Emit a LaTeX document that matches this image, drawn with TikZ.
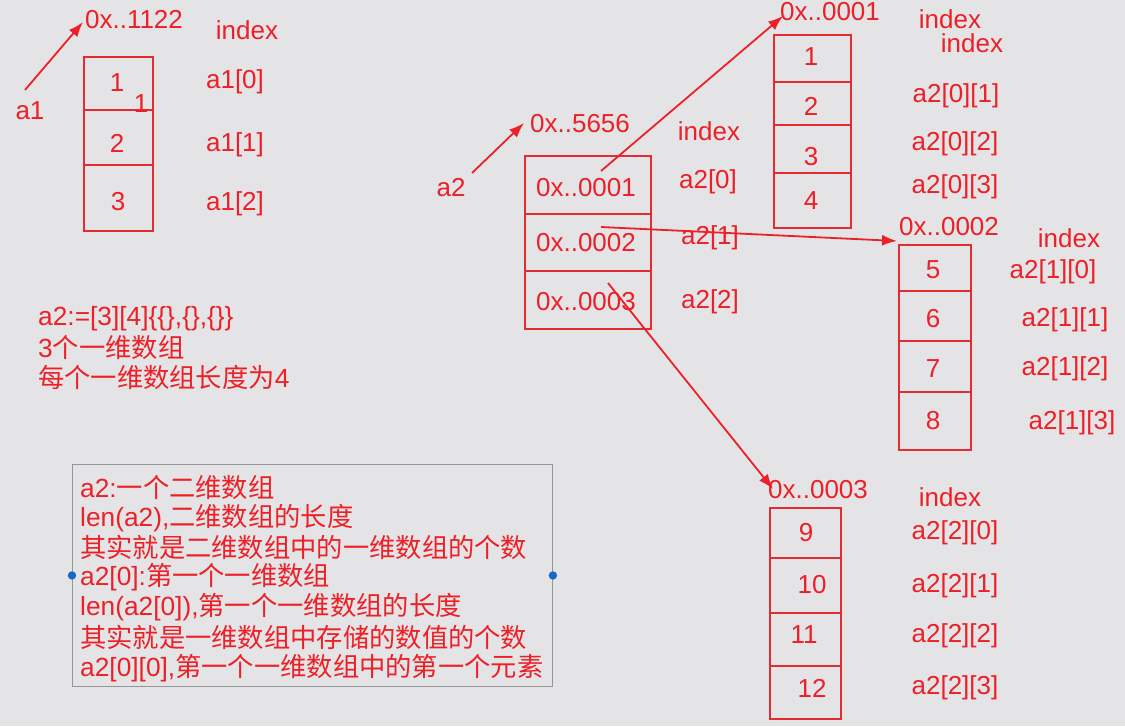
\documentclass[tikz,border=0pt]{standalone}
\usepackage{fontspec}
\setmainfont{Liberation Sans}
\newfontfamily\cjk{Noto Sans CJK SC}
\usetikzlibrary{arrows.meta}
\definecolor{bg}{RGB}{228,228,231}
\definecolor{rd}{RGB}{236,32,38}
\definecolor{ln}{RGB}{226,44,52}
\definecolor{gborder}{RGB}{150,150,152}
\definecolor{dotblue}{RGB}{24,104,200}
\begin{document}
\begin{tikzpicture}[x=1pt,y=-1pt,
  lbl/.style={text=rd,font=\fontsize{26}{30}\selectfont,inner sep=0pt},
  zh/.style={text=rd,font=\fontsize{26.3}{30}\selectfont,inner sep=0pt,anchor=west},
  cellbox/.style={draw=ln,line width=1.8pt,inner sep=0pt,anchor=north west},
  arr/.style={draw=rd,line width=1.8pt,-{Latex[length=15pt,width=11pt]}}]
\fill[bg] (0,0) rectangle (1125,726);
\useasboundingbox (0,0) rectangle (1125,726);

% ---------- a1 ----------
\node[cellbox,minimum width=69pt,minimum height=53pt] (a1c0) at (83,56) {};
\node[cellbox,minimum width=69pt,minimum height=55pt] (a1c1) at (83,109) {};
\node[cellbox,minimum width=69pt,minimum height=66pt] (a1c2) at (83,164) {};
\node[lbl] (a1t0) at (117,83) {1};
\node[lbl] (a1stray) at (141,104) {1};
\node[lbl] (a1t1) at (117,143) {2};
\node[lbl] (a1t2) at (118,202) {3};
\node[lbl] (a1lbl) at (30,111) {a1};
\node[lbl] (addr1122) at (134,20) {0x..1122};
\node[lbl] (a1idx) at (247,30) {index};
\node[lbl] (a1i0) at (235,82) {a1[0]};
\node[lbl] (a1i1) at (235,145) {a1[1]};
\node[lbl] (a1i2) at (235,204) {a1[2]};
\coordinate (a1s) at (25,90);
\coordinate (a1e) at (83,22);
\draw[arr] (a1s) -- (a1e);

% ---------- a2 ----------
\node[cellbox,minimum width=126pt,minimum height=58pt] (a2c0) at (524,155) {};
\node[cellbox,minimum width=126pt,minimum height=57pt] (a2c1) at (524,213) {};
\node[cellbox,minimum width=126pt,minimum height=58pt] (a2c2) at (524,270) {};
\node[lbl] (a2t0) at (586,188) {0x..0001};
\node[lbl] (a2t1) at (586,243) {0x..0002};
\node[lbl] (a2t2) at (586,302) {0x..0003};
\node[lbl] (a2lbl) at (451,188) {a2};
\node[lbl] (addr5656) at (580,124) {0x..5656};
\node[lbl] (a2idx) at (709,131) {index};
\node[lbl] (a2i0) at (708,182) {a2[0]};
\node[lbl] (a2i1) at (710,238) {a2[1]};
\node[lbl] (a2i2) at (710,302) {a2[2]};
\coordinate (a2s) at (472,173);
\coordinate (a2e) at (524,123);
\draw[arr] (a2s) -- (a2e);

% ---------- row 0 ----------
\node[cellbox,minimum width=77pt,minimum height=47pt] (b0c0) at (773,34) {};
\node[cellbox,minimum width=77pt,minimum height=43pt] (b0c1) at (773,81) {};
\node[cellbox,minimum width=77pt,minimum height=48pt] (b0c2) at (773,124) {};
\node[cellbox,minimum width=77pt,minimum height=55pt] (b0c3) at (773,172) {};
\node[lbl] (b0t0) at (811,57) {1};
\node[lbl] (b0t1) at (811,106) {2};
\node[lbl] (b0t2) at (811,157) {3};
\node[lbl] (b0t3) at (811,201) {4};
\node[lbl] (addr0001) at (830,12) {0x..0001};
\node[lbl] (b0idx) at (950,19) {index};
\node[lbl] (b0idxb) at (972,43) {index};
\node[lbl] (b0i1) at (956,96) {a2[0][1]};
\node[lbl] (b0i2) at (955,144) {a2[0][2]};
\node[lbl] (b0i3) at (955,187) {a2[0][3]};

% ---------- row 1 ----------
\node[cellbox,minimum width=72pt,minimum height=46pt] (b1c0) at (898,244) {};
\node[cellbox,minimum width=72pt,minimum height=50pt] (b1c1) at (898,290) {};
\node[cellbox,minimum width=72pt,minimum height=51pt] (b1c2) at (898,340) {};
\node[cellbox,minimum width=72pt,minimum height=58pt] (b1c3) at (898,391) {};
\node[lbl] (b1t0) at (933,270) {5};
\node[lbl] (b1t1) at (933,319) {6};
\node[lbl] (b1t2) at (933,369) {7};
\node[lbl] (b1t3) at (933,421) {8};
\node[lbl] (addr0002) at (949,227) {0x..0002};
\node[lbl] (b1idx) at (1069,238) {index};
\node[lbl] (b1i0) at (1053,272) {a2[1][0]};
\node[lbl] (b1i1) at (1065,320) {a2[1][1]};
\node[lbl] (b1i2) at (1065,369) {a2[1][2]};
\node[lbl] (b1i3) at (1072,423) {a2[1][3]};

% ---------- row 2 ----------
\node[cellbox,minimum width=71pt,minimum height=50pt] (b2c0) at (769,507) {};
\node[cellbox,minimum width=71pt,minimum height=55pt] (b2c1) at (769,557) {};
\node[cellbox,minimum width=71pt,minimum height=53pt] (b2c2) at (769,612) {};
\node[cellbox,minimum width=71pt,minimum height=53pt] (b2c3) at (769,665) {};
\node[lbl] (b2t0) at (806,533) {9};
\node[lbl] (b2t1) at (812,585) {10};
\node[lbl] (b2t2) at (804,635) {11};
\node[lbl] (b2t3) at (812,688) {12};
\node[lbl] (addr0003) at (818,490) {0x..0003};
\node[lbl] (b2idx) at (950,497) {index};
\node[lbl] (b2i0) at (955,533) {a2[2][0]};
\node[lbl] (b2i1) at (955,586) {a2[2][1]};
\node[lbl] (b2i2) at (955,636) {a2[2][2]};
\node[lbl] (b2i3) at (955,688) {a2[2][3]};

% ---------- pointer arrows ----------
\coordinate (p0) at (601,171);
\coordinate (p1) at (601,227);
\coordinate (p2) at (608,283);
\coordinate (q0) at (783,16);
\coordinate (q1) at (897,241);
\coordinate (q2) at (773,489);
\draw[arr] (p0) -- (q0);
\draw[arr] (p1) -- (q1);
\draw[arr] (p2) -- (q2);

% ---------- left notes ----------
\node[zh] (n1) at (38,319) {a2:=[3][4]\{\{\},\{\},\{\}\}};
\node[zh] (n2) at (38,348) {3{\cjk 个一维数组}};
\node[zh] (n3) at (38,377) {{\cjk 每个一维数组长度为}4};

% ---------- explanation box ----------
\node[draw=gborder,line width=0.9pt,inner sep=0pt,anchor=north west,
      minimum width=480pt,minimum height=222pt] (expl) at (72,464) {};
\fill[dotblue] (expl.west) circle (4.2pt);
\fill[dotblue] (expl.east) circle (4.2pt);
\node[zh] (e1) at (80,488) {a2:{\cjk 一个二维数组}};
\node[zh] (e2) at (80,518) {len(a2),{\cjk 二维数组的长度}};
\node[zh] (e3) at (80,547) {{\cjk 其实就是二维数组中的一维数组的个数}};
\node[zh] (e4) at (80,577) {a2[0]:{\cjk 第一个一维数组}};
\node[zh] (e5) at (80,607) {len(a2[0]),{\cjk 第一个一维数组的长度}};
\node[zh] (e6) at (80,637) {{\cjk 其实就是一维数组中存储的数值的个数}};
\node[zh] (e7) at (80,668) {a2[0][0],{\cjk 第一个一维数组中的第一个元素}};
\end{tikzpicture}
\end{document}
